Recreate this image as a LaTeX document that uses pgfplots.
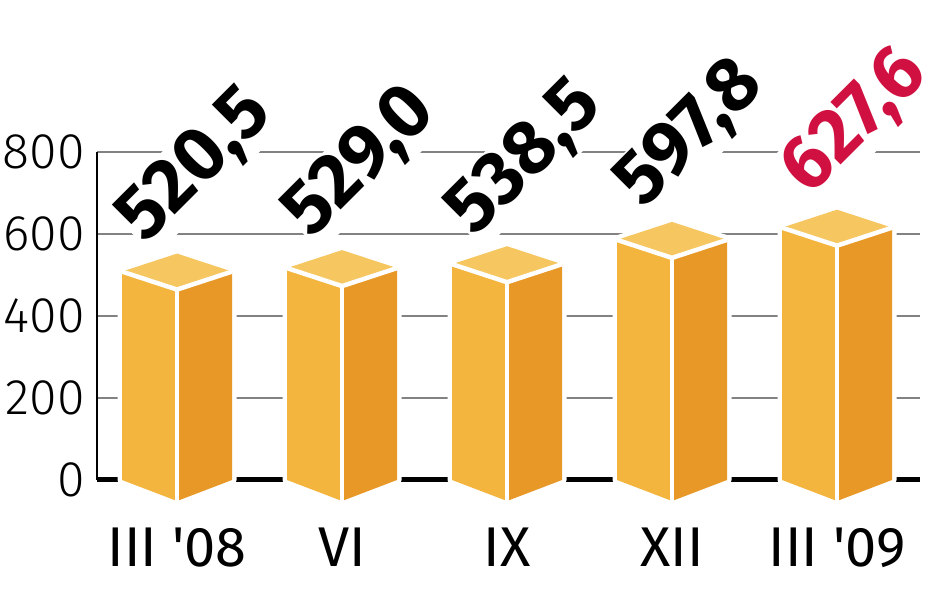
\documentclass[border=0pt]{standalone}
\usepackage{pgfplots}
\pgfplotsset{compat=1.18}
\usepackage{pgfplotstable}
\usepackage{fontspec}
\setmainfont{Fira Sans}
\newfontfamily\lightfont{Fira Sans Light}
\definecolor{faceL}{RGB}{243,181,62}
\definecolor{faceR}{RGB}{232,152,38}
\definecolor{faceT}{RGB}{246,199,96}
\definecolor{labred}{RGB}{208,16,64}
\definecolor{gridgray}{RGB}{130,130,130}
\pgfdeclareplotmark{nothing}{}
\pgfplotstableread{
x v lab
0 520.5 520,5
1 529.0 529,0
2 538.5 538,5
3 597.8 597,8
4 627.6 627,6
}\datatable
\pgfplotsset{
  prism/.style={scatter, only marks, mark=nothing,
    scatter/@pre marker code/.code={%
      \path[draw=white, fill=white, line width=9pt, line join=round]
        (-55pt,-5pt) -- (0pt,13pt) -- (55pt,-5pt) -- (55pt,0pt |- base) -- (0pt,0pt |- basefront) -- (-55pt,0pt |- base) -- cycle;
      \path[fill=faceL, draw=none] (-55pt,-5pt) -- (0pt,-23pt) -- (0pt,0pt |- basefront) -- (-55pt,0pt |- base) -- cycle;
      \path[fill=faceR, draw=none] (0pt,-23pt) -- (55pt,-5pt) -- (55pt,0pt |- base) -- (0pt,0pt |- basefront) -- cycle;
      \path[fill=faceT, draw=none] (-55pt,-5pt) -- (0pt,13pt) -- (55pt,-5pt) -- (0pt,-23pt) -- cycle;
      \path[draw=white, line width=4.5pt, line join=round] (-55pt,-5pt) -- (0pt,-23pt) -- (55pt,-5pt);
      \path[draw=white, line width=4.5pt] (0pt,-23pt) -- (0pt,0pt |- basefront);
    },
    scatter/@post marker code/.code={},
  },
  vlabel/.style={scatter, only marks, mark=nothing,
    point meta=explicit symbolic,
    scatter/@pre marker code/.code={%
      \path (19pt,100pt) node[rotate=45, text=#1, fill=white, inner sep=1.5pt, font=\bfseries\fontsize{76}{76}\selectfont] {\pgfplotspointmeta};
    },
    scatter/@post marker code/.code={},
  }
}
\begin{document}
\begin{tikzpicture}
\path[use as bounding box] (-97pt,-113pt) rectangle (851pt,480pt);
\begin{axis}[
  x=165pt, y=0.41pt,
  anchor=south west, at={(0pt,0pt)},
  xmin=-0.485, xmax=4.503, ymin=0, ymax=800,
  clip=false,
  axis lines*=left,
  x axis line style={line width=5pt, black},
  y axis line style={line width=2.5pt, black},
  ytick={0,200,400,600,800},
  xtick={0,1,2,3,4},
  xticklabels={III \textquotesingle 08, VI, IX, XII, III \textquotesingle 09},
  tick style={draw=none},
  major tick length=0pt,
  ymajorgrids,
  grid style={gridgray, line width=2.5pt},
  /pgf/number format/assume math mode=true,
  yticklabel style={font=\lightfont\fontsize{50}{50}\selectfont, inner sep=0pt, anchor=east, xshift=-12pt},
  xticklabel style={font=\fontsize{56}{56}\selectfont, inner sep=0pt, anchor=base, yshift=-87pt},
]
\coordinate (base) at (axis cs:0,0);
\coordinate (basefront) at ([yshift=-21pt]axis cs:0,0);
\addplot[vlabel=black, skip coords between index={4}{5}] table[x=x, y=v, meta=lab] {\datatable};
\addplot[vlabel=labred, skip coords between index={0}{4}] table[x=x, y=v, meta=lab] {\datatable};
\addplot[prism] table[x=x, y=v] {\datatable};
\end{axis}
\end{tikzpicture}
\end{document}
